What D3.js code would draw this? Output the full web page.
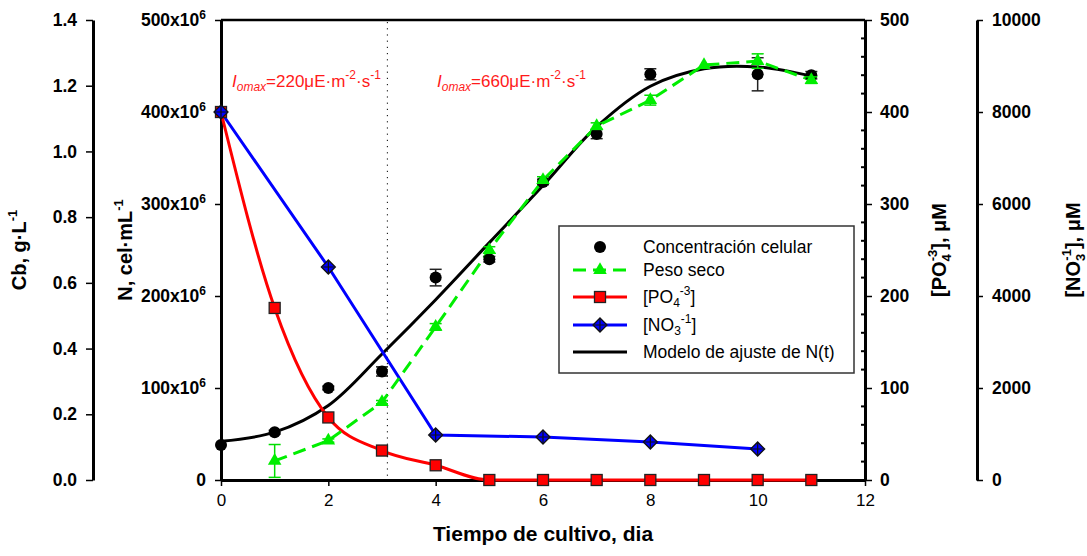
<!DOCTYPE html>
<html><head><meta charset="utf-8">
<script src="https://cdn.jsdelivr.net/npm/d3@7"></script>
<style>
body{margin:0;background:#fff;}
svg{font-family:"Liberation Sans",Arial,Helvetica,sans-serif;}
</style></head><body>
<svg id="chart" width="1087" height="556"></svg>
<script>
// Cell concentration (cel/mL) with standard deviation
const cellDays = [0, 1, 2, 3, 4, 5, 6, 7, 8, 10, 11];
const cellN    = [38e6, 52e6, 100e6, 118e6, 220e6, 240e6, 324e6, 376e6, 441e6, 441e6, 440e6];
const cellErr  = [0, 2e6, 2e6, 5e6, 9e6, 3e6, 3e6, 5e6, 6e6, 18e6, 4e6];

// Dry weight (g/L) with standard deviation
const dryDays = [1, 2, 3, 4, 5, 6, 7, 8, 9, 10, 11];
const dryCb   = [0.058, 0.12, 0.237, 0.466, 0.70, 0.913, 1.077, 1.156, 1.263, 1.275, 1.217];
const dryErr  = [0.05, 0.005, 0.005, 0.01, 0.01, 0.01, 0.01, 0.015, 0, 0.022, 0.01];

// Phosphate (µM)
const po4Days = [0, 1, 2, 3, 4, 5, 6, 7, 8, 9, 10, 11];
const po4     = [400, 187, 68, 32, 16, 0, 0, 0, 0, 0, 0, 0];

// Nitrate (µM)
const no3Days = [0, 2, 4, 6, 8, 10];
const no3     = [8000, 4630, 978, 935, 826, 674];

// Fitted growth model N(t)
const modelDays = [0, 1, 2, 3, 4, 5, 6, 7, 8, 9, 10, 11];
const modelN    = [42e6, 52e6, 81e6, 137e6, 196e6, 258e6, 320e6, 384e6, 428e6, 447e6, 449e6, 439e6];

// Axis ticks
const xTicks   = [0, 2, 4, 6, 8, 10, 12];
const cbTicks  = [0, 0.2, 0.4, 0.6, 0.8, 1.0, 1.2, 1.4];
const nTicks   = [0, 100e6, 200e6, 300e6, 400e6, 500e6];
const po4Ticks = [0, 100, 200, 300, 400, 500];
const no3Ticks = [0, 2000, 4000, 6000, 8000, 10000];
const lightChange = 3.1;

const svg = d3.select("#chart");
const L = 221, R = 865, T = 20, B = 480;

const x    = d3.scaleLinear().domain([0, 12]).range([L, R]);
const yN   = d3.scaleLinear().domain([0, 500e6]).range([B, T]);
const yCb  = d3.scaleLinear().domain([0, 1.4]).range([B, T]);
const yP   = d3.scaleLinear().domain([0, 500]).range([B, T]);
const yNO  = d3.scaleLinear().domain([0, 10000]).range([B, T]);

function styleAxis(g, size) {
  g.select(".domain").attr("stroke", "#000").attr("stroke-width", 3);
  g.selectAll(".tick line").attr("stroke", "#000").attr("stroke-width", 1.5);
  g.selectAll(".tick text").attr("font-family", "Liberation Sans, Arial, sans-serif")
    .attr("font-size", size).attr("font-weight", "bold").attr("fill", "#000");
}

// Cb axis (far left)
svg.append("g").attr("transform", `translate(93,0)`)
  .call(d3.axisLeft(yCb).tickValues(cbTicks).tickFormat(d3.format(".1f")).tickSize(7).tickSizeOuter(0).tickPadding(9))
  .call(g => styleAxis(g, 17.5));

// N axis (plot left border)
svg.append("g").attr("transform", `translate(${L},0)`)
  .call(d3.axisLeft(yN).tickValues(nTicks).tickSize(6).tickSizeOuter(0).tickPadding(9).tickFormat(""))
  .call(g => styleAxis(g, 17.5))
  .call(g => g.selectAll(".tick text").each(function(d) {
    const t = d3.select(this);
    if (d === 0) { t.text("0"); return; }
    t.text(null);
    t.append("tspan").text(`${d / 1e6}x10`);
    t.append("tspan").attr("font-size", 12).attr("dy", -7).text("6");
  }));

// Top border
svg.append("line").attr("x1", L).attr("x2", R).attr("y1", T).attr("y2", T)
  .attr("stroke", "#000").attr("stroke-width", 2.5);

// X axis
svg.append("g").attr("transform", `translate(0,${B})`)
  .call(d3.axisBottom(x).tickValues(xTicks).tickSize(6).tickSizeOuter(0).tickPadding(8))
  .call(g => {
    styleAxis(g, 17);
    g.selectAll(".tick text").attr("font-weight", "normal");
  });

// PO4 axis (plot right border) with inner minor ticks
const po4Axis = svg.append("g").attr("transform", `translate(${R},0)`);
po4Axis.selectAll("line.minor").data(d3.range(20, 500, 20).filter(v => v % 100 !== 0))
  .join("line").attr("class", "minor")
  .attr("x1", -4).attr("x2", 0).attr("y1", d => yP(d)).attr("y2", d => yP(d))
  .attr("stroke", "#000").attr("stroke-width", 2);
po4Axis.call(d3.axisRight(yP).tickValues(po4Ticks).tickSize(7).tickSizeOuter(0).tickPadding(8))
  .call(g => styleAxis(g, 17.5));

// NO3 axis (far right)
svg.append("g").attr("transform", `translate(977,0)`)
  .call(d3.axisRight(yNO).tickValues(no3Ticks).tickFormat(d3.format("d")).tickSize(6).tickSizeOuter(0).tickPadding(9))
  .call(g => styleAxis(g, 17.5));

// Axis titles
function vtitle(xp, parts) {
  const t = svg.append("text").attr("transform", `translate(${xp},250) rotate(-90)`)
    .attr("text-anchor", "middle").attr("font-size", 20).attr("font-weight", "bold");
  parts.forEach(p => {
    const s = t.append("tspan").text(p.t);
    if (p.fs) s.attr("font-size", p.fs);
    if (p.dy) s.attr("dy", p.dy);
    if (p.dx) s.attr("dx", p.dx);
  });
}
vtitle(26, [{t: "Cb, g·L"}, {t: "-1", fs: 13, dy: -9}]);
vtitle(132, [{t: "N, cel·mL"}, {t: "-1", fs: 13, dy: -9}]);
vtitle(946, [{t: "[PO"}, {t: "4", fs: 13, dy: 5}, {t: "-3", fs: 13, dy: -14, dx: -7}, {t: "], μM", dy: 9}]);
vtitle(1080, [{t: "[NO"}, {t: "3", fs: 13, dy: 5}, {t: "-1", fs: 13, dy: -14, dx: -7}, {t: "], μM", dy: 9}]);

svg.append("text").attr("x", 543).attr("y", 541).attr("text-anchor", "middle")
  .attr("font-size", 21).attr("font-weight", "bold").text("Tiempo de cultivo, dia");

// Light-intensity change marker
svg.append("line").attr("x1", x(lightChange)).attr("x2", x(lightChange)).attr("y1", T + 2).attr("y2", B)
  .attr("stroke", "#000").attr("stroke-width", 1).attr("stroke-dasharray", "1.2,5");

function annot(xp, val) {
  const t = svg.append("text").attr("x", xp).attr("y", 87).attr("fill", "#ff1a1a").attr("font-size", 17);
  t.append("tspan").attr("font-style", "italic").text("I");
  t.append("tspan").attr("font-style", "italic").attr("font-size", 12).attr("dy", 4).text("omax");
  t.append("tspan").attr("dy", -4).text(`=${val}μE·m`);
  t.append("tspan").attr("font-size", 12).attr("dy", -8).text("-2");
  t.append("tspan").attr("dy", 8).text("·s");
  t.append("tspan").attr("font-size", 12).attr("dy", -8).text("-1");
}
annot(232, 220);
annot(437, 660);

// Model curve
svg.append("path")
  .datum(modelDays.map((d, i) => [d, modelN[i]]))
  .attr("fill", "none").attr("stroke", "#000").attr("stroke-width", 3)
  .attr("d", d3.line().x(d => x(d[0])).y(d => yN(d[1])).curve(d3.curveCatmullRom));

// Nitrate line
svg.append("path")
  .datum(no3Days.map((d, i) => [d, no3[i]]))
  .attr("fill", "none").attr("stroke", "#0000ff").attr("stroke-width", 3)
  .attr("d", d3.line().x(d => x(d[0])).y(d => yNO(d[1])));

// Phosphate curve
svg.append("path")
  .datum(po4Days.map((d, i) => [d, po4[i]]))
  .attr("fill", "none").attr("stroke", "#ff0000").attr("stroke-width", 3)
  .attr("d", d3.line().x(d => x(d[0])).y(d => yP(d[1])).curve(d3.curveMonotoneX));

// Dry weight dashed line
svg.append("path")
  .datum(dryDays.map((d, i) => [d, dryCb[i]]))
  .attr("fill", "none").attr("stroke", "#00ee00").attr("stroke-width", 3).attr("stroke-dasharray", "13,7")
  .attr("d", d3.line().x(d => x(d[0])).y(d => yCb(d[1])));

// Error bars helper
function errBars(days, vals, errs, scale, color) {
  const g = svg.append("g").attr("stroke", color).attr("stroke-width", 1.5);
  days.forEach((d, i) => {
    if (!errs[i]) return;
    const cx = x(d), y1 = scale(vals[i] - errs[i]), y2 = scale(vals[i] + errs[i]);
    g.append("line").attr("x1", cx).attr("x2", cx).attr("y1", y1).attr("y2", y2);
    g.append("line").attr("x1", cx - 6).attr("x2", cx + 6).attr("y1", y1).attr("y2", y1);
    g.append("line").attr("x1", cx - 6).attr("x2", cx + 6).attr("y1", y2).attr("y2", y2);
  });
}

// Cell markers
errBars(cellDays, cellN, cellErr, yN, "#222");
svg.append("g").selectAll("circle").data(cellDays.map((d, i) => [d, cellN[i]])).join("circle")
  .attr("cx", d => x(d[0])).attr("cy", d => yN(d[1])).attr("r", 6).attr("fill", "#000");

// Dry weight markers
errBars(dryDays, dryCb, dryErr, yCb, "#00dd00");
const tri = d3.symbol().type(d3.symbolTriangle).size(80);
svg.append("g").selectAll("path").data(dryDays.map((d, i) => [d, dryCb[i]])).join("path")
  .attr("transform", d => `translate(${x(d[0])},${yCb(d[1])})`)
  .attr("d", tri).attr("fill", "#00ee00");

// Phosphate markers
svg.append("g").selectAll("rect").data(po4Days.map((d, i) => [d, po4[i]])).join("rect")
  .attr("x", d => x(d[0]) - 5.5).attr("y", d => yP(d[1]) - 5.5).attr("width", 11).attr("height", 11)
  .attr("fill", "#ff0000").attr("stroke", "#222").attr("stroke-width", 1.3);

// Nitrate markers
function diamond(g, cx, cy) {
  g.append("path").attr("d", `M${cx},${cy - 7}L${cx + 7},${cy}L${cx},${cy + 7}L${cx - 7},${cy}Z`)
    .attr("fill", "#0000ff").attr("stroke", "#111").attr("stroke-width", 1.3);
  g.append("path").attr("d", `M${cx - 6},${cy}H${cx + 6}M${cx},${cy - 6}V${cy + 6}`)
    .attr("stroke", "#111").attr("stroke-width", 1.2);
}
const dg = svg.append("g");
no3Days.forEach((d, i) => diamond(dg, x(d), yNO(no3[i])));

// Legend
const lg = svg.append("g");
lg.append("rect").attr("x", 559).attr("y", 226).attr("width", 295).attr("height", 147)
  .attr("fill", "#fff").attr("stroke", "#333").attr("stroke-width", 1.5);
const rows = [247, 270, 297, 325, 352];
const lx1 = 573, lx2 = 627, sx = 600, tx = 643;
lg.append("circle").attr("cx", sx).attr("cy", rows[0]).attr("r", 6).attr("fill", "#000");
lg.append("line").attr("x1", lx1).attr("x2", lx2).attr("y1", rows[1]).attr("y2", rows[1])
  .attr("stroke", "#00ee00").attr("stroke-width", 3).attr("stroke-dasharray", "13,7");
lg.append("path").attr("transform", `translate(${sx},${rows[1]})`).attr("d", tri).attr("fill", "#00ee00");
lg.append("line").attr("x1", lx1).attr("x2", lx2).attr("y1", rows[2]).attr("y2", rows[2])
  .attr("stroke", "#ff0000").attr("stroke-width", 3);
lg.append("rect").attr("x", sx - 5.5).attr("y", rows[2] - 5.5).attr("width", 11).attr("height", 11)
  .attr("fill", "#ff0000").attr("stroke", "#222").attr("stroke-width", 1.3);
lg.append("line").attr("x1", lx1).attr("x2", lx2).attr("y1", rows[3]).attr("y2", rows[3])
  .attr("stroke", "#0000ff").attr("stroke-width", 3);
diamond(lg, sx, rows[3]);
lg.append("line").attr("x1", lx1).attr("x2", lx2).attr("y1", rows[4]).attr("y2", rows[4])
  .attr("stroke", "#000").attr("stroke-width", 3);

function ltext(y, parts) {
  const t = lg.append("text").attr("x", tx).attr("y", y + 6).attr("font-size", 17.5);
  parts.forEach(p => {
    const s = t.append("tspan").text(p.t);
    if (p.fs) s.attr("font-size", p.fs);
    if (p.dy) s.attr("dy", p.dy);
  });
}
ltext(rows[0], [{t: "Concentración celular"}]);
ltext(rows[1], [{t: "Peso seco"}]);
ltext(rows[2], [{t: "[PO"}, {t: "4", fs: 12, dy: 4}, {t: "-3", fs: 12, dy: -12}, {t: "]", dy: 8}]);
ltext(rows[3], [{t: "[NO"}, {t: "3", fs: 12, dy: 4}, {t: "-1", fs: 12, dy: -12}, {t: "]", dy: 8}]);
ltext(rows[4], [{t: "Modelo de ajuste de N(t)"}]);
</script>
</body></html>
